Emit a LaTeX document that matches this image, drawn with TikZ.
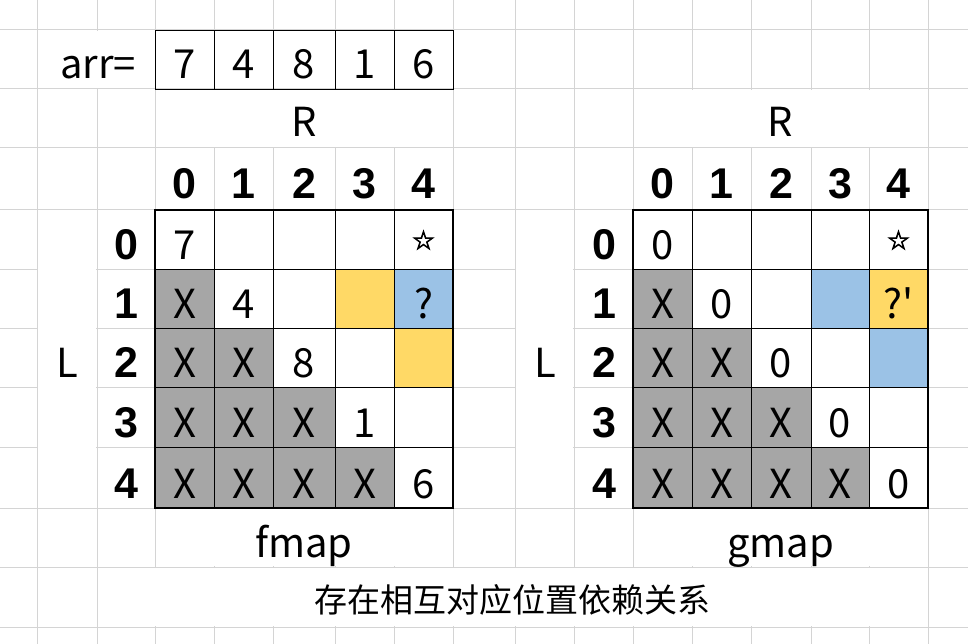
\documentclass[tikz,border=0pt]{standalone}
\usepackage{fontspec}
\setmainfont{Noto Sans CJK SC}
\newfontfamily\hdfont{Liberation Sans}
\newfontfamily\symfont{DejaVu Sans}[FakeBold=3]
\newfontfamily\cjkfont{Noto Sans CJK SC}
\newfontfamily\qfont{Noto Sans CJK SC}[Ligatures=ResetAll]
\definecolor{gridc}{HTML}{D4D4D4}
\definecolor{xgray}{HTML}{A6A6A6}
\definecolor{xyel}{HTML}{FFD966}
\definecolor{xblue}{HTML}{9BC2E6}
\tikzset{
  gl/.style={draw=gridc, line width=1pt},
  txt/.style={inner sep=0pt, anchor=base, font=\fontsize{40}{48}\selectfont},
  hd/.style={inner sep=0pt, anchor=base, font=\hdfont\bfseries\fontsize{43}{50}\selectfont},
  star/.style={inner sep=0pt, anchor=center, font=\symfont\fontsize{26}{30}\selectfont},
  thinb/.style={draw=black, line width=0.9pt},
  thickb/.style={draw=black, line width=2.4pt},
  merged/.style={fill=white}
}
\begin{document}
\begin{tikzpicture}[x=1pt,y=-1pt]
\useasboundingbox (0,0) rectangle (968,644);
\fill[white] (0,0) rectangle (968,644);
% background grid
\foreach \x in {37,97,155,214,273,335,394,453,515,574,633,692,751,811,869,928}
  \draw[gl] (\x,0) -- (\x,644);
\foreach \y in {30,89,148,210,269,328,387,447,508,567,627}
  \draw[gl] (0,\y) -- (968,\y);
% merged cells
\fill[merged] (37.6,30.6) rectangle (154.4,88.4);
\fill[merged] (155.6,89.6) rectangle (452.4,147.4);
\fill[merged] (633.6,89.6) rectangle (927.4,147.4);
\fill[merged] (37.6,210.6) rectangle (96.4,507.4);
\fill[merged] (515.6,210.6) rectangle (573.4,507.4);
\fill[merged] (155.6,508.6) rectangle (452.4,566.4);
\fill[merged] (633.6,508.6) rectangle (927.4,566.4);
\fill[merged] (97.6,567.6) rectangle (927.4,626.4);

% arr row
\node[txt, anchor=base east] (arrlbl) at (136,79) {arr=};
\foreach \xl/\xr/\v/\i in {155/214/7/0,214/273/4/1,273/335/8/2,335/394/1/3,394/453/6/4} {
  \draw[thinb] (\xl,30) rectangle (\xr,89);
  \node[txt] (arr\i) at ({(\xl+\xr)/2},79) {\v};
}

% ---------- fmap ----------
\foreach \r/\yt/\yb in {1/269/328,2/328/387,3/387/447,4/447/508} {
  \foreach \c/\xl/\xr in {0/155/214,1/214/273,2/273/335,3/335/394} {
    \ifnum\c<\r
      \fill[xgray] (\xl,\yt) rectangle (\xr,\yb);
      \node[txt] (fX\r\c) at ({(\xl+\xr)/2},{\yb-10}) {X};
    \fi
  }
}
\fill[xyel] (335,269) rectangle (394,328);
\fill[xblue] (394,269) rectangle (453,328);
\fill[xyel] (394,328) rectangle (453,387);
\foreach \x in {214,273,335,394} \draw[thinb] (\x,210) -- (\x,508);
\foreach \y in {269,328,387,447} \draw[thinb] (155,\y) -- (453,\y);
\draw[thickb] (155,210) rectangle (453,508);
\node[txt] (f00) at (184.5,259) {7};
\node[txt] (f11) at (243.5,318) {4};
\node[txt] (f22) at (304,377) {8};
\node[txt] (f33) at (364.5,437) {1};
\node[txt] (f44) at (423.5,498) {6};
\node[star] (f04) at (423.5,240) {☆};
\node[txt] (f14) at (423.5,318) {?};
\node[txt] (fR) at (304,137) {R};
\node[txt] (fL) at (67,377) {L};
\node[txt] (fname) at (304,557) {fmap};
\foreach \c/\xl/\xr in {0/155/214,1/214/273,2/273/335,3/335/394,4/394/453}
  \node[hd] (fc\c) at ({(\xl+\xr)/2},199) {\c};
\foreach \r/\yb in {0/269,1/328,2/387,3/447,4/508}
  \node[hd] (fr\r) at (126,{\yb-10}) {\r};

% ---------- gmap ----------
\foreach \r/\yt/\yb in {1/269/328,2/328/387,3/387/447,4/447/508} {
  \foreach \c/\xl/\xr in {0/633/692,1/692/751,2/751/811,3/811/869} {
    \ifnum\c<\r
      \fill[xgray] (\xl,\yt) rectangle (\xr,\yb);
      \node[txt] (gX\r\c) at ({(\xl+\xr)/2},{\yb-10}) {X};
    \fi
  }
}
\fill[xblue] (811,269) rectangle (869,328);
\fill[xyel] (869,269) rectangle (928,328);
\fill[xblue] (869,328) rectangle (928,387);
\foreach \x in {692,751,811,869} \draw[thinb] (\x,210) -- (\x,508);
\foreach \y in {269,328,387,447} \draw[thinb] (633,\y) -- (928,\y);
\draw[thickb] (633,210) rectangle (928,508);
\node[txt] (g00) at (662.5,259) {0};
\node[txt] (g11) at (721.5,318) {0};
\node[txt] (g22) at (781,377) {0};
\node[txt] (g33) at (840,437) {0};
\node[txt] (g44) at (898.5,498) {0};
\node[star] (g04) at (898.5,240) {☆};
\node[txt, font=\qfont\fontsize{40}{48}\selectfont] (g14) at (898.5,318) {?'};
\node[txt] (gR) at (780.5,137) {R};
\node[txt] (gL) at (545,377) {L};
\node[txt] (gname) at (780.5,557) {gmap};
\foreach \c/\xl/\xr in {0/633/692,1/692/751,2/751/811,3/811/869,4/869/928}
  \node[hd] (gc\c) at ({(\xl+\xr)/2},199) {\c};
\foreach \r/\yb in {0/269,1/328,2/387,3/447,4/508}
  \node[hd] (gr\r) at (604,{\yb-10}) {\r};

% caption
\node[inner sep=0pt, anchor=base, font=\cjkfont\fontsize{33}{40}\selectfont] (cap) at (512.5,612) {存在相互对应位置依赖关系};
\end{tikzpicture}
\end{document}
